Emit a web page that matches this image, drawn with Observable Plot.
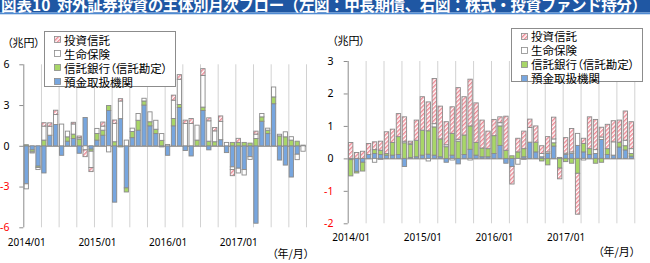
<!DOCTYPE html>
<html lang="ja">
<head>
<meta charset="utf-8">
<script src="https://cdn.jsdelivr.net/npm/d3@7"></script>
<script src="https://cdn.jsdelivr.net/npm/@observablehq/plot@0.6"></script>
<style>
  html, body { margin: 0; padding: 0; background: #fff; }
  #page { position: relative; width: 650px; height: 263px; overflow: hidden; font-family: "Noto Sans CJK JP", sans-serif; }
  #page > * { position: absolute; }
  .legend { background: #fff; border: 1px solid #8c8c8c; box-sizing: border-box; font-size: 11.5px; color: #000; font-feature-settings: "palt"; }
  .legend .row { display: flex; align-items: center; height: 14px; line-height: 14px; white-space: nowrap; overflow: visible; }
  .legend .row span { display: inline-block; height: 14px; line-height: 14px; overflow: visible; }
  .legend svg { margin-right: 3px; flex: none; }
  .unit { font-size: 11px; font-feature-settings: "palt"; color: #000; white-space: nowrap; line-height: 14px; }
</style>
</head>
<body>
<svg width="0" height="0" style="position:absolute">
  <defs>
    <pattern id="hatch" patternUnits="userSpaceOnUse" width="3" height="3" patternTransform="rotate(45)">
      <rect width="3" height="3" fill="#ffffff"></rect>
      <rect width="1.5" height="3" fill="#ee8a95"></rect>
    </pattern>
  </defs>
</svg>
<div id="page"></div>
<script>
// Month categories and the labelled ticks of the shared time axis
const months = [
  "2014/01","2014/02","2014/03","2014/04","2014/05","2014/06","2014/07","2014/08","2014/09","2014/10","2014/11","2014/12",
  "2015/01","2015/02","2015/03","2015/04","2015/05","2015/06","2015/07","2015/08","2015/09","2015/10","2015/11","2015/12",
  "2016/01","2016/02","2016/03","2016/04","2016/05","2016/06","2016/07","2016/08","2016/09","2016/10","2016/11","2016/12",
  "2017/01","2017/02","2017/03","2017/04","2017/05","2017/06","2017/07","2017/08","2017/09","2017/10","2017/11","2017/12"
];
const xTickLabels = ["2014/01", "2015/01", "2016/01", "2017/01"];

// Investor groups, in stacking order (nearest zero first)
const seriesNames = ["預金取扱機関", "信託銀行（信託勘定）", "生命保険", "投資信託"];
const seriesColors = ["#77a6df", "#a8d668", "#ffffff", "url(#hatch)"];

// Left: medium/long-term bonds (trillion yen)
const bondDeposit = [-2.8,-0.3,-1.5,-2.0,0.78,1.57,-0.7,0.34,0.54,-0.55,2.08,-0.25,
  0.42,0.78,2.6,-4.15,2.0,-3.1,0.6,1.15,3.0,1.47,0.9,-0.08,
  -0.7,1.47,2.82,-0.35,-0.75,0,2.6,-0.3,0,0.45,-0.5,-1.55,
  -1.65,-1.75,-0.8,-5.7,1.81,0.9,3.1,-1.05,-1.42,-2.3,-0.62,0];
const bondTrust = [0.08,-0.15,-0.1,0.42,0,0,0,0.32,0.32,0.5,0,-0.15,
  0.49,0.37,0.37,0.3,-0.08,-0.3,0.45,0.73,0.3,0.3,0.32,0.4,
  0,0.54,0.22,0,0,0.42,0.25,0.34,0.3,0,0,0.25,
  0.25,0.25,0.2,0.54,0.32,0.25,0.5,0.73,0.66,0.42,0.34,0.05];
const bondLife = [-0.37,-0.08,-0.15,1.03,0.66,0.73,1.6,0.42,0.75,0.1,-0.3,-1.2,
  0.37,0.3,-0.45,1.35,1.3,0.42,0.25,0.5,0.2,0.73,0.66,0.5,
  0.1,1.35,1.86,1.64,1.64,1.1,2.33,1.5,0.8,1.35,0.25,-0.2,
  -0.35,-0.4,-0.2,0.32,0.25,0.15,0.73,0.12,0.37,0.25,-0.4,-0.4];
const bondFund = [0,0,0,0.25,0.25,0.32,0,0,0.12,0.12,-0.5,-0.3,
  0,0.3,0,0.25,0.17,0,0,0,0,0,0,0,
  0,0.37,0.34,0.25,0.37,0,0.5,0.22,0.25,0.4,0,-0.45,
  0.3,0,0,0.22,0,0,0,0,0,0,0,0];

// Right: equities and investment fund shares (trillion yen)
const eqDeposit = [-0.04,-0.4,-0.12,0.12,0.15,0.12,0.1,0.1,0.12,-0.25,0.03,0.05,
  0.1,0.13,0.1,0.05,-0.12,0.1,-0.17,0.12,0.28,0.1,0.05,0.05,
  0.15,0.4,-0.15,-0.25,0,0.05,0.5,0.2,0.05,0.15,0.38,0.03,
  0.12,0.15,0.4,0.2,0.12,0.15,0.58,0.12,0.1,0.35,0.26,0.07];
const eqTrust = [-0.5,-0.05,-0.27,0,0.12,0.13,0.05,0.39,0.55,0.48,0.4,0.51,
  0.77,0.72,0.87,0.55,0.36,0.67,0.53,0.6,0.72,0.39,0.27,0.25,
  0.55,0.6,0.25,0.08,0.2,0.25,0,0.3,-0.08,-0.2,0.1,-0.3,
  -0.1,-0.15,-0.46,0.26,0.18,-0.15,-0.12,0.18,0,0.15,0.13,0.08];
const eqLife = [0,0,0,0,-0.12,-0.03,0,0,0,0.05,0.04,0,
  0,-0.08,0.1,0,0.06,-0.05,0.06,0,-0.05,0,0,0,
  0,0.1,0,0,-0.18,-0.03,0.45,0,0.1,0.05,0.12,0,
  0.04,0.05,0.37,-0.05,0,0.12,0.08,0,0.41,0,0.17,0.15];
const eqFund = [0.49,0.18,0.22,0.34,0.24,0.28,0.67,0.41,0.71,0.75,0.06,0.62,
  1.03,0.89,1.39,1.01,0.71,0.82,1.59,1.18,1.44,1.22,0.86,0.54,
  0.5,0.18,1.05,-0.54,0.42,0.54,0.26,0.5,0.24,0.47,0.67,-0.33,
  0.48,0.72,-1.26,0.16,0.98,0.93,0.3,0.75,0.65,0.68,0.9,0.83];

const bondTicks = [-6, -3, 0, 3, 6];
const equityTicks = [-2, -1, 0, 1, 2, 3];

const page = document.getElementById("page");
const barStroke = "#8a8a8a";
const axisGray = "#8c8c8c";

function stackedPanel(values, o) {
  const rows = [];
  months.forEach((m, i) => seriesNames.forEach((s, k) => rows.push({i, i2: i + 1, s, v: values[k][i]})));
  const tickPos = xTickLabels.map(l => months.indexOf(l) + 0.5);
  const yAxis = (ticks, fill) => Plot.axisY(ticks, {
    tickSize: 4, tickPadding: o.yPad, stroke: axisGray, fill, label: null,
    tickFormat: d => String(d), fontSize: 10.5
  });
  return Plot.plot({
    width: o.width, height: o.height,
    marginLeft: o.ml, marginRight: o.mr, marginTop: o.mt, marginBottom: o.mb,
    style: {fontFamily: "'Noto Sans', sans-serif", fontSize: "10px", background: "transparent", overflow: "visible"},
    x: {domain: [0, months.length]},
    y: {domain: o.yDomain},
    color: {domain: seriesNames, range: seriesColors},
    marks: [
      Plot.ruleX(d3.range(3, months.length + 1, 3), {stroke: "#d2d2d2"}),
      Plot.ruleY([0], {stroke: axisGray}),
      Plot.rectY(rows, Plot.stackY({
        x1: "i", x2: "i2", y: "v", fill: "s",
        stroke: barStroke, strokeWidth: 0.9, insetLeft: 0.8, insetRight: 0.8
      })),
      Plot.ruleX([0], {stroke: axisGray}),
      yAxis(o.yTicks.filter(t => t >= 0), "#000"),
      yAxis(o.yTicks.filter(t => t < 0), "#ff0000"),
      Plot.axisX(tickPos, {
        tickSize: 0, tickPadding: o.xPad, label: null, fontSize: 10,
        tickFormat: t => months[Math.floor(t)]
      })
    ]
  });
}

function legendBox(box) {
  const div = document.createElement("div");
  div.className = "legend";
  Object.assign(div.style, {left: box.left + "px", top: box.top + "px", width: box.width + "px",
    height: box.height + "px", paddingTop: box.padTop + "px", paddingLeft: box.padLeft + "px"});
  const order = seriesNames.map((s, k) => k).reverse();
  for (const k of order) {
    const row = document.createElement("div");
    row.className = "row";
    row.innerHTML = `<svg width="7" height="7"><rect x="0.5" y="0.5" width="6" height="6" fill="${seriesColors[k]}" stroke="${barStroke}" stroke-width="0.8"></rect></svg><span>${seriesNames[k]}</span>`;
    div.appendChild(row);
  }
  return div;
}

function unitLabel(text, left, top) {
  const d = document.createElement("div");
  d.className = "unit";
  d.textContent = text;
  Object.assign(d.style, {left: left + "px", top: top + "px"});
  return d;
}

// Title band
const title = document.createElementNS("http://www.w3.org/2000/svg", "svg");
title.setAttribute("width", 650);
title.setAttribute("height", 15);
title.style.left = "0px"; title.style.top = "0px";
title.innerHTML = `<rect x="0" y="0" width="650" height="12.5" fill="#1f57a3"></rect>
<rect x="0" y="12.5" width="650" height="1.8" fill="#4f8ad2"></rect>
<text y="10.6" fill="#fff" font-size="15.5" font-weight="bold" font-family="'Noto Sans CJK JP', sans-serif"><tspan x="1">図表10</tspan><tspan x="57" textLength="590" lengthAdjust="spacing">対外証券投資の主体別月次フロー（左図：中長期債、右図：株式・投資ファンド持分）</tspan></text>`;
page.appendChild(title);

const left = stackedPanel([bondDeposit, bondTrust, bondLife, bondFund], {
  width: 320, height: 263, ml: 23.3, mr: 14, mt: 64.3, mb: 35.7,
  yDomain: [-6, 6], yTicks: bondTicks, yPad: 10.3, xPad: 11
});
left.style.left = "0px"; left.style.top = "0px";
page.appendChild(left);

const right = stackedPanel([eqDeposit, eqTrust, eqLife, eqFund], {
  width: 330, height: 263, ml: 27.7, mr: 15.7, mt: 61, mb: 39.7,
  yDomain: [-2, 3], yTicks: equityTicks, yPad: 10.7, xPad: 10
});
right.style.left = "320px"; right.style.top = "0px";
page.appendChild(right);

page.appendChild(legendBox({left: 44, top: 31, width: 132, height: 56, padTop: 0.5, padLeft: 9}));
page.appendChild(legendBox({left: 511, top: 28, width: 132, height: 54, padTop: -0.5, padLeft: 9}));

page.appendChild(unitLabel("（兆円）", 7, 35));
page.appendChild(unitLabel("（兆円）", 332, 33));
page.appendChild(unitLabel("（年/月）", 272, 245.5));
page.appendChild(unitLabel("（年/月）", 598, 244));
</script>
</body>
</html>
